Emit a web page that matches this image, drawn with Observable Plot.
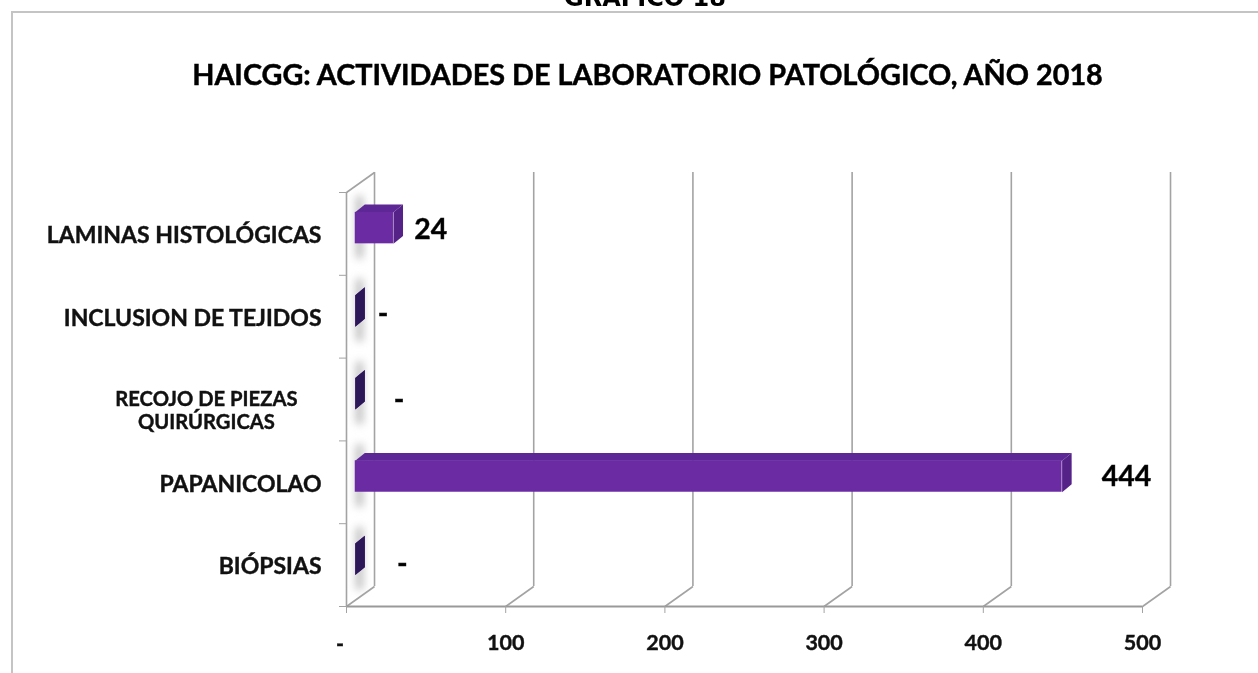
<!DOCTYPE html>
<html>
<head>
<meta charset="utf-8">
<script src="https://cdn.jsdelivr.net/npm/d3@7"></script>
<script src="https://cdn.jsdelivr.net/npm/@observablehq/plot@0.6"></script>
<style>
html,body{margin:0;padding:0;background:#fff;overflow:hidden}
#wrap{position:relative;width:1258px;height:673px;overflow:hidden}
#frame{position:absolute;left:11px;top:11px;width:1260px;height:680px;border:2px solid #c4c4c4;box-sizing:border-box}
#sup{position:absolute;left:0;width:1290px;top:-16px;text-align:center;font:bold 24px "DejaVu Sans";color:#000;filter:blur(.5px)}
#title{position:absolute;left:0;width:1295px;top:57px;text-align:center;font:bold 28.8px "Lato";color:#000;filter:blur(.5px);-webkit-text-stroke:.45px #000}
svg{position:absolute;left:0;top:0;filter:blur(.5px)}
svg text{stroke:#111;stroke-width:.4px}
.halo{filter:blur(4px)}
.soft{filter:blur(.7px)}
</style>
</head>
<body>
<div id="wrap">
<div id="frame"></div>
<div id="sup">GRÁFICO 18</div>
<div id="title">HAICGG: ACTIVIDADES DE LABORATORIO PATOLÓGICO, AÑO 2018</div>
</div>
<script>
const categories = ["BIÓPSIAS", "PAPANICOLAO", "RECOJO DE PIEZAS\nQUIRÚRGICAS", "INCLUSION DE TEJIDOS", "LAMINAS HISTOLÓGICAS"];
const values = [0, 444, 0, 0, 24];
const valueLabels = ["-", "444", "-", "-", "24"];
const xTicks = [0, 100, 200, 300, 400, 500];

// where Excel's hand-placed data labels sit, in x-axis units and band units
const labelX = [35, 490, 33, 23, 53];
const labelY = [0.51, 1.56, 2.49, 3.53, 4.55];
const wrappedLabelAt = {x: -88, y: 2.375};

// oblique depth of the fake 3-D box, in data units
const depthX = 17.6, depthY = 0.2415;
const barStart = 5.5, barSide = 6, barRise = 0.095, barLow = 0.38, barHigh = 0.76;

const idx = d3.range(categories.length);
const front = idx.map(i => ({i, x1: barStart, x2: barStart + values[i], y1: i + barLow, y2: i + barHigh}));
const poly = (fn) => idx.flatMap(i => fn(i).map(([x, y]) => ({id: i, x, y})));
const topFace = poly(i => [[barStart, i + barHigh], [barStart + barSide, i + barHigh + barRise], [barStart + values[i] + barSide, i + barHigh + barRise], [barStart + values[i], i + barHigh]]);
const sideFace = poly(i => [[barStart + values[i], i + barLow], [barStart + values[i] + barSide, i + barLow + barRise], [barStart + values[i] + barSide, i + barHigh + barRise], [barStart + values[i], i + barHigh]]);
const grey = "#a3a3a3";

const plot = Plot.plot({
  width: 1258, height: 673,
  marginLeft: 346, marginRight: 116, marginTop: 192, marginBottom: 67,
  style: {background: "transparent", fontFamily: "Lato", overflow: "visible"},
  x: {domain: [0, 500], label: null},
  y: {domain: [0, 5], label: null},
  marks: [
    // back wall verticals
    Plot.ruleX(xTicks, {x: d => d + depthX, y1: depthY, y2: 5 + depthY, stroke: grey, strokeWidth: 1.6}),
    // floor depth lines
    Plot.link(xTicks, {x1: d => d, y1: 0, x2: d => d + depthX, y2: depthY, stroke: grey, strokeWidth: 1.6}),
    // left wall
    Plot.ruleX([0], {y1: 0, y2: 5, stroke: grey, strokeWidth: 1.6}),
    Plot.link([0], {x1: 0, y1: 5, x2: depthX, y2: 5 + depthY, stroke: grey, strokeWidth: 1.6}),
    // floor front edge
    Plot.ruleY([0], {x1: 0, x2: 500, stroke: "#999", strokeWidth: 1.8}),
    // soft shadow behind each bar, on the side wall
    Plot.rect(idx, {x1: 6.5, x2: 10.5, y1: i => i + 0.2, y2: i => i + 0.95, fill: "#b5b5b5", className: "halo"}),
    // bars
    Plot.line(topFace, {x: "x", y: "y", z: "id", fill: "#5d2796", stroke: "none", className: "soft"}),
    Plot.rect(front, {x1: "x1", x2: "x2", y1: "y1", y2: "y2", fill: "#6b2ba3", className: "soft"}),
    Plot.line(sideFace, {x: "x", y: "y", z: "id", fill: "#552388", stroke: "none", className: "soft"}),
    Plot.line(sideFace.filter(d => values[d.id] === 0), {x: "x", y: "y", z: "id", fill: "#2c1758", stroke: "none", className: "soft"}),
    // axes
    Plot.axisX({ticks: xTicks, tickSize: 7, tickPadding: 21, stroke: grey, tickFormat: d => d === 0 ? "" : d, fontSize: 21.5, fontWeight: "bold", fill: "#111"}),
    Plot.text(["-"], {x: -4, y: -0.45, text: d => d, fontSize: 21.5, fontWeight: "bold", fill: "#111"}),
    Plot.axisY({ticks: xTicks.map((d, i) => i), tickSize: 7, stroke: grey, tickFormat: () => ""}),
    Plot.axisY({ticks: idx.map(i => i + 0.5).filter(d => !categories[d - 0.5].includes("\n")), tickSize: 0, tickPadding: 25, dy: 2, tickFormat: d => categories[d - 0.5], fontSize: 23, fontWeight: "bold", fill: "#111"}),
    Plot.text(categories.filter(c => c.includes("\n")), {x: wrappedLabelAt.x, y: wrappedLabelAt.y, text: d => d, fontSize: 20.2, lineHeight: 1.14, fontWeight: "bold", fill: "#111", textAnchor: "middle"}),
    // data labels
    Plot.text(idx, {x: i => labelX[i], y: i => labelY[i], text: i => valueLabels[i], fontSize: 28.5, fontWeight: "bold", fill: "#000", textAnchor: "middle"})
  ]
});
document.getElementById("wrap").appendChild(plot);
</script>
</body>
</html>
